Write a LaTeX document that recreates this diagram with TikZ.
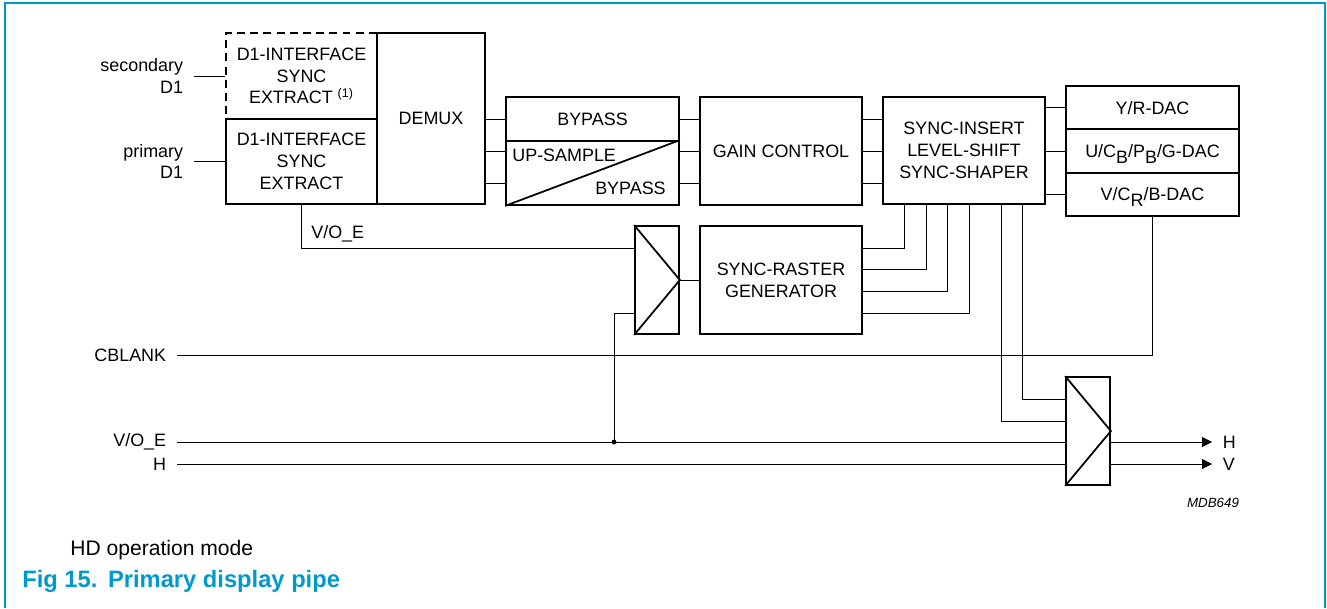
\documentclass[tikz,border=0pt]{standalone}
\usepackage{fontspec}
\setmainfont{Liberation Sans}
\usetikzlibrary{arrows.meta,calc}
\definecolor{nxpblue}{RGB}{0,153,204}
\newcommand{\lowsub}[1]{\raisebox{-3.5pt}[0pt][0pt]{#1}}
\tikzset{
  blk/.style 2 args={rectangle,draw,line width=1pt,inner sep=0pt,align=center,
    minimum width=#1*0.02cm,minimum height=#2*0.02cm},
  wire/.style={line width=0.55pt},
  lbl/.style={inner xsep=6pt,inner ysep=0pt,align=right},
  arr/.style={-{Triangle[length=5.7pt,width=5.7pt]}},
}

\begin{document}
\begin{tikzpicture}[x=0.02cm,y=-0.02cm,font=\fontsize{10.2}{12.4}\selectfont]

    \useasboundingbox (0,0) rectangle (1327,608);

    % frame
    \draw[nxpblue,line width=0.9pt] (5,608) |- (1325,3) -- (1325,608);

    % interface blocks and demux
    \node[blk={151}{86},dash pattern=on 4.5pt off 3pt] (d1s) at (301.5,76) {D1-INTERFACE\\SYNC\\EXTRACT \textsuperscript{(1)}};
    \node[blk={151}{85}] (d1p) at (301.5,161.5) {D1-INTERFACE\\SYNC\\EXTRACT};
    \node[blk={108}{171}] (demux) at (431,118.5) {DEMUX};

    % inputs
    \node[lbl,anchor=east] (sec) at (194,76) {secondary\\D1};
    \draw[wire] (sec) -- (d1s);
    \node[lbl,anchor=east] (pri) at (194,161.5) {primary\\D1};
    \draw[wire] (pri) -- (d1p);

    % bypass / up-sample
    \node[blk={173}{44}] (bypA) at (592.5,119) {BYPASS};
    \node[blk={173}{64}] (ups) at (592.5,173) {};
    \draw[line width=1pt] (ups.south west) -- (ups.north east);
    \node[anchor=west,inner sep=0pt] (upsL) at (512,155) {UP-SAMPLE};
    \node[anchor=east,inner sep=0pt] (upsR) at (666,188) {BYPASS};

    % gain control
    \node[blk={162}{108}] (gain) at (781,151) {GAIN CONTROL};

    % sync insert
    \node[blk={162}{107}] (sins) at (964,150.5) {SYNC-INSERT\\LEVEL-SHIFT\\SYNC-SHAPER};

    % data rows
    \coordinate (r1) at (0,119);
    \coordinate (r2) at (0,151);
    \coordinate (r3) at (0,183);
    \foreach \r in {r1,r2,r3} {
        \draw[wire] (demux.east |- \r) -- (bypA.west |- \r);
        \draw[wire] (bypA.east |- \r) -- (gain.west |- \r);
        \draw[wire] (gain.east |- \r) -- (sins.west |- \r);
    }

    % DACs
    \node[blk={173}{43.3}] (dacY) at (1152.5,107.7) {Y/R-DAC};
    \node[blk={173}{43.3}] (dacU) at (1152.5,151) {U/C\lowsub{B}/P\lowsub{B}/G-DAC};
    \node[blk={173}{43.3}] (dacV) at (1152.5,194.3) {V/C\lowsub{R}/B-DAC};
    \foreach \d in {dacY,dacU,dacV}
        \draw[wire] (sins.east |- \d) -- (\d);

    % mux and sync-raster generator
    \node[blk={44}{108}] (mux1) at (657,280) {};
    \draw[line width=1pt] (mux1.north west) -- (mux1.east) -- (mux1.south west);
    \node[blk={162}{108}] (srast) at (781,280) {SYNC-RASTER\\GENERATOR};
    \draw[wire] (mux1) -- (srast);

    % output mux
    \node[blk={44}{108}] (mux2) at (1088,431) {};
    \draw[line width=1pt] (mux2.north west) -- (mux2.east) -- (mux2.south west);

    % taps from sync-insert
    \foreach \dx/\dy in {22/-32, 44/-11, 65/11, 87/33}
        \draw[wire] ($(sins.south west)+(\dx,0)$) |- ($(srast.east)+(0,\dy)$);
    \foreach \dx/\dy in {119/-10, 140/-32}
        \draw[wire] ($(sins.south west)+(\dx,0)$) |- ($(mux2.west)+(0,\dy)$);

    % V/O_E from primary interface
    \draw[wire] (d1p) |- ($(mux1.west)+(0,-32)$);
    \node[anchor=west,inner sep=0pt] (voeI) at (311,234) {V/O\_E};

    % CBLANK
    \node[lbl,anchor=east] (cbl) at (177,355) {CBLANK};
    \draw[wire] (cbl) -| (dacV);

    % sync inputs
    \node[lbl,anchor=east] (voe) at (177,442) {V/O\_E};
    \node[lbl,anchor=east] (hin) at (177,464) {H};
    \draw[wire] (voe) -- (voe -| mux2.west);
    \draw[wire] (hin) -- (hin -| mux2.west);
    \coordinate (jn) at (614,442);
    \fill (jn) circle (1.4pt);
    \draw[wire] (jn) |- ($(mux1.west)+(0,33)$);

    % outputs
    \node[anchor=west,inner xsep=6pt] (oH) at (1212,442) {H};
    \node[anchor=west,inner xsep=6pt] (oV) at (1212,464) {V};
    \draw[wire,arr] (mux2.east |- oH) -- (oH);
    \draw[wire,arr] (mux2.east |- oV) -- (oV);

    % drawing number
    \node[anchor=base,font=\fontsize{7.6}{9}\selectfont\itshape] (num) at (1213,507) {MDB649};

    % caption
    \node[anchor=base west,inner sep=0pt,font=\fontsize{12}{14}\selectfont] (mode) at (70,555) {HD operation mode};
    \node[anchor=base west,inner sep=0pt,font=\fontsize{13.5}{16}\selectfont\bfseries,text=nxpblue] (cap) at (22,587) {Fig 15.\hspace{6pt}Primary display pipe};

\end{tikzpicture}
\end{document}
